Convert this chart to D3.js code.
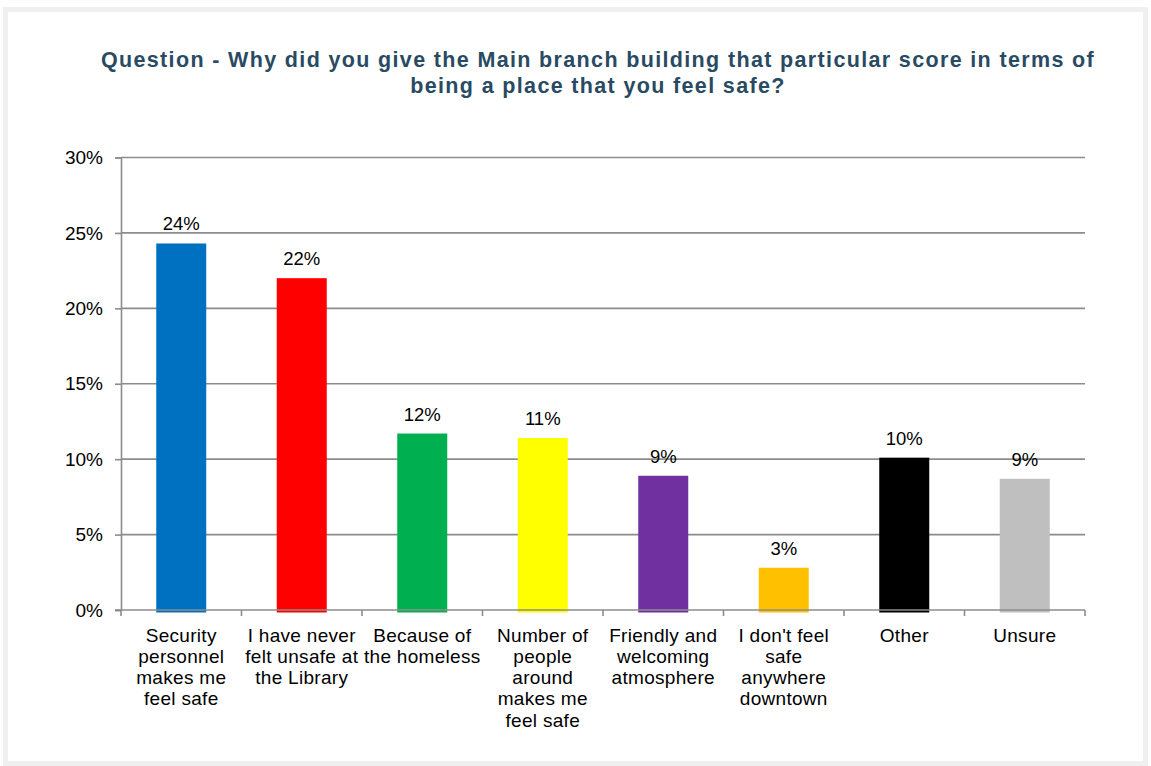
<!DOCTYPE html>
<html>
<head>
<meta charset="utf-8">
<script src="https://cdn.jsdelivr.net/npm/d3@7/dist/d3.min.js"></script>
<style>
  html, body { margin: 0; padding: 0; background: #ffffff; }
  svg { display: block; font-family: "Liberation Sans", Arial, sans-serif; }
</style>
</head>
<body>
<svg id="chart" width="1151" height="766"></svg>
<script>
// Survey responses: reasons for the safety score given to the Main branch building
const titleLines = [
  "Question - Why did you give the Main branch building that particular score in terms of",
  "being a place that you feel safe?"
];
const categories = [
  "Security\npersonnel\nmakes me\nfeel safe",
  "I have never\nfelt unsafe at\nthe Library",
  "Because of\nthe homeless",
  "Number of\npeople\naround\nmakes me\nfeel safe",
  "Friendly and\nwelcoming\natmosphere",
  "I don't feel\nsafe\nanywhere\ndowntown",
  "Other",
  "Unsure"
];
const values = [24.3, 22.0, 11.7, 11.4, 8.9, 2.8, 10.1, 8.7];
const valueLabels = ["24%", "22%", "12%", "11%", "9%", "3%", "10%", "9%"];
const barColors = ["#0070c0", "#ff0000", "#00b050", "#ffff00", "#7030a0", "#ffc000", "#000000", "#bfbfbf"];
const yTicks = [0, 5, 10, 15, 20, 25, 30];

const svg = d3.select("#chart");

// outer frame
svg.append("rect")
  .attr("x", 5.5).attr("y", 9.5)
  .attr("width", 1140).attr("height", 754)
  .attr("fill", "#ffffff")
  .attr("stroke", "#f0f0f0")
  .attr("stroke-width", 5);

// title
svg.append("text")
  .attr("x", 598)
  .attr("y", 67)
  .attr("text-anchor", "middle")
  .attr("fill", "#294a63")
  .attr("font-size", 21.5)
  .attr("font-weight", "bold")
  .attr("letter-spacing", 1.35)
  .selectAll("tspan")
  .data(titleLines)
  .join("tspan")
  .attr("x", 598)
  .attr("dy", (d, i) => i === 0 ? 0 : 25.5)
  .text(d => d);

const plot = { left: 121, right: 1085, top: 157.5, bottom: 610 };

const x = d3.scaleBand()
  .domain(d3.range(categories.length))
  .range([plot.left, plot.right])
  .paddingInner(0)
  .paddingOuter(0);

const y = d3.scaleLinear()
  .domain([0, 30])
  .range([plot.bottom, plot.top]);

const gridColor = "#8c8c8c";

// horizontal gridlines
svg.append("g")
  .selectAll("line")
  .data(yTicks.filter(t => t > 0))
  .join("line")
  .attr("x1", plot.left).attr("x2", plot.right)
  .attr("y1", d => y(d)).attr("y2", d => y(d))
  .attr("stroke", gridColor)
  .attr("stroke-width", 1.6);

// bars
const barWidth = 50;
svg.append("g")
  .selectAll("rect")
  .data(values)
  .join("rect")
  .attr("x", (d, i) => x(i) + x.bandwidth() / 2 - barWidth / 2)
  .attr("y", d => y(d))
  .attr("width", barWidth)
  .attr("height", d => y(0) - y(d) + 2.5)
  .attr("fill", (d, i) => barColors[i]);

// value labels
svg.append("g")
  .selectAll("text")
  .data(values)
  .join("text")
  .attr("x", (d, i) => x(i) + x.bandwidth() / 2)
  .attr("y", d => y(d) - 13)
  .attr("text-anchor", "middle")
  .attr("font-size", 18.5)
  .attr("fill", "#000000")
  .text((d, i) => valueLabels[i]);

// y axis
const yAxis = d3.axisLeft(y)
  .tickValues(yTicks)
  .tickSize(6)
  .tickPadding(12)
  .tickFormat(d => d + "%");
const yg = svg.append("g")
  .attr("transform", `translate(${plot.left},0)`)
  .call(yAxis);
yg.select(".domain").attr("stroke", gridColor).attr("stroke-width", 1.6);
yg.selectAll(".tick line").attr("stroke", gridColor).attr("stroke-width", 1.6);
yg.selectAll(".tick text")
  .attr("font-size", 19)
  .attr("font-family", "'Liberation Sans', Arial, sans-serif")
  .attr("fill", "#000000");

// x axis baseline and category dividers
const xg = svg.append("g");
xg.append("line")
  .attr("x1", plot.left - 6).attr("x2", plot.right)
  .attr("y1", y(0)).attr("y2", y(0))
  .attr("stroke", gridColor)
  .attr("stroke-width", 1.6);
const boundaries = d3.range(categories.length + 1).map(i =>
  i < categories.length ? x(i) : x(categories.length - 1) + x.bandwidth());
xg.selectAll("line.div")
  .data(boundaries)
  .join("line")
  .attr("class", "div")
  .attr("x1", d => d).attr("x2", d => d)
  .attr("y1", y(0)).attr("y2", y(0) + 6)
  .attr("stroke", gridColor)
  .attr("stroke-width", 1.6);

// category labels
svg.append("g")
  .selectAll("text")
  .data(categories)
  .join("text")
  .attr("x", (d, i) => x(i) + x.bandwidth() / 2)
  .attr("y", y(0) + 31.5)
  .attr("text-anchor", "middle")
  .attr("font-size", 19)
  .attr("letter-spacing", 0.3)
  .attr("fill", "#000000")
  .each(function(d, i) {
    const cx = x(i) + x.bandwidth() / 2;
    d3.select(this).selectAll("tspan")
      .data(d.split("\n"))
      .join("tspan")
      .attr("x", cx)
      .attr("dy", (t, j) => j === 0 ? 0 : 21.3)
      .text(t => t);
  });
</script>
</body>
</html>
